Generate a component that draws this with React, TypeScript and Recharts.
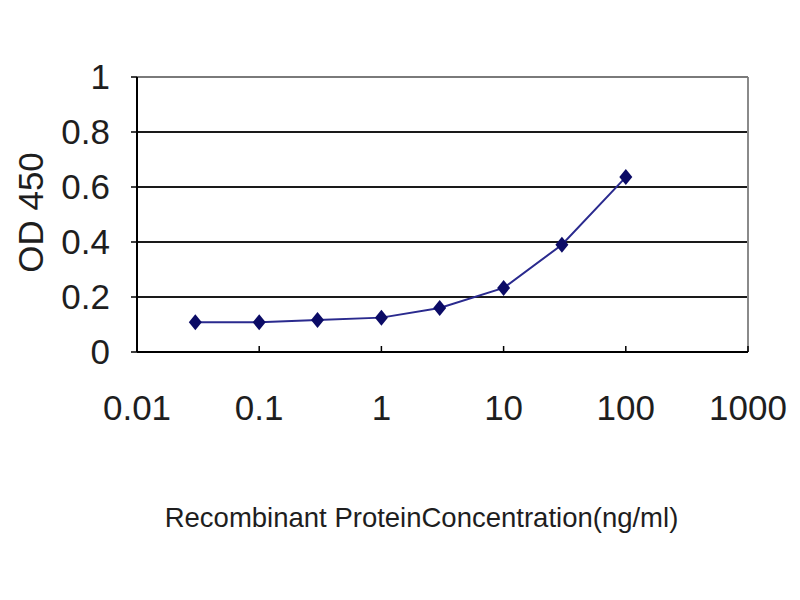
import React from 'react';
import { LineChart, Line, XAxis, YAxis, CartesianGrid, ReferenceLine, Label } from 'recharts';

const concentrations = [0.03, 0.1, 0.3, 1, 3, 10, 30, 100];
const odValues = [0.108, 0.108, 0.116, 0.125, 0.16, 0.233, 0.39, 0.636];
const xTicks = [0.01, 0.1, 1, 10, 100, 1000];
const yTicks = [0, 0.2, 0.4, 0.6, 0.8, 1];
const xTitle = 'Recombinant ProteinConcentration(ng/ml)';
const yTitle = 'OD 450';

const data = concentrations.map((c, i) => ({ conc: c, od: odValues[i] }));

const FONT = '"Liberation Sans", Arial, sans-serif';
const TEXT = '#1e1e1e';

const Diamond = (props: any) => {
  const { cx, cy } = props;
  if (cx == null || cy == null) return null;
  return (
    <path
      d={`M${cx},${cy - 8} L${cx + 6.5},${cy} L${cx},${cy + 8} L${cx - 6.5},${cy} Z`}
      fill="#0b0b66"
    />
  );
};

export default function App() {
  return (
    <div style={{ position: 'absolute', left: 0, top: 0, width: 800, height: 600, background: '#fff' }}>
      <LineChart
        width={800}
        height={600}
        data={data}
        margin={{ top: 77, right: 52, bottom: 58, left: 0 }}
      >
        <CartesianGrid horizontal vertical={false} stroke="#1a1a1a" strokeWidth={2} />
        <XAxis
          dataKey="conc"
          type="number"
          scale="log"
          domain={[0.01, 1000]}
          ticks={xTicks}
          interval={0}
          allowDataOverflow
          height={190}
          tickSize={-6}
          tickMargin={49}
          axisLine={{ stroke: '#000', strokeWidth: 2 }}
          tickLine={{ stroke: '#000', strokeWidth: 1.5 }}
          tick={{ fontSize: 35, fill: TEXT, fontFamily: FONT }}
        >
          <Label
            content={(p: any) => {
              const vb = p.viewBox;
              return (
                <text
                  x={vb.x + vb.width / 2 - 21}
                  y={vb.y + 175}
                  textAnchor="middle"
                  fontSize={27.5}
                  fontFamily={FONT}
                  fill={TEXT}
                >
                  {xTitle}
                </text>
              );
            }}
          />
        </XAxis>
        <YAxis
          type="number"
          domain={[0, 1]}
          ticks={yTicks}
          interval={0}
          width={137}
          tickSize={6}
          tickMargin={21}
          axisLine={{ stroke: '#000', strokeWidth: 2 }}
          tickLine={{ stroke: '#000', strokeWidth: 1.5 }}
          tick={{ fontSize: 35, fill: TEXT, fontFamily: FONT }}
        >
          <Label
            content={(p: any) => {
              const vb = p.viewBox;
              const cx = vb.x + 43;
              const cy = vb.y + vb.height / 2 - 2;
              return (
                <text
                  x={cx}
                  y={cy}
                  transform={`rotate(-90, ${cx}, ${cy})`}
                  textAnchor="middle"
                  fontSize={35}
                  fontFamily={FONT}
                  fill={TEXT}
                >
                  {yTitle}
                </text>
              );
            }}
          />
        </YAxis>
        <ReferenceLine x={1000} stroke="#8a8a8a" strokeWidth={2} />
        <ReferenceLine y={1} stroke="#7a7a7a" strokeWidth={2} />
        <Line
          type="linear"
          dataKey="od"
          stroke="#2a2a8e"
          strokeWidth={2}
          dot={<Diamond />}
          activeDot={false}
          isAnimationActive={false}
        />
      </LineChart>
    </div>
  );
}
